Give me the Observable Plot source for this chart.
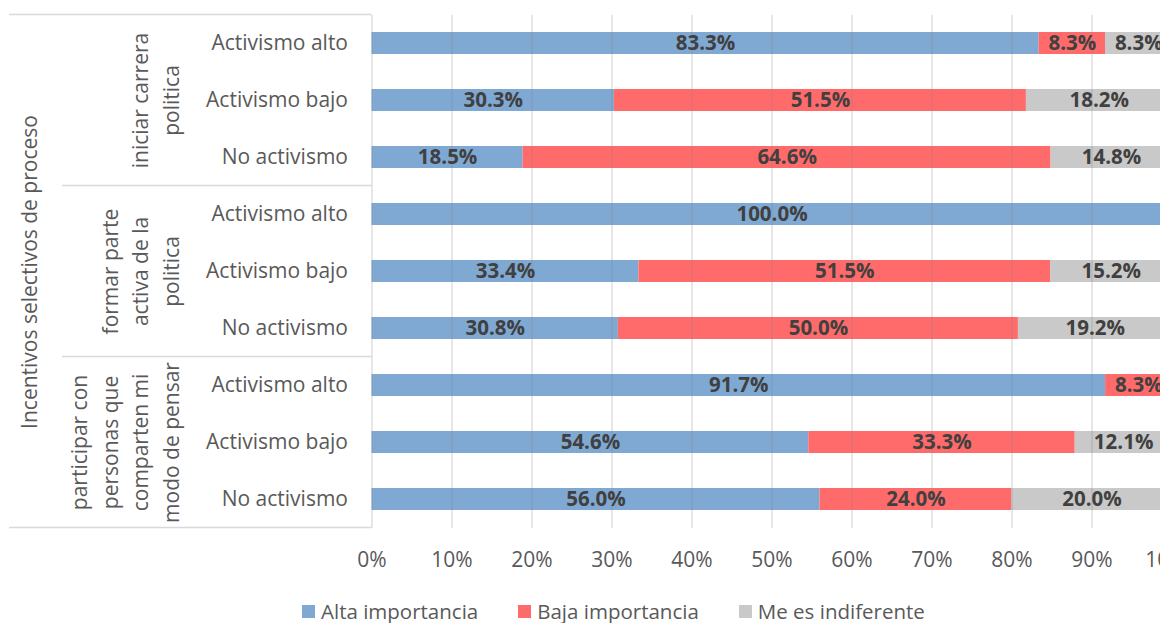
<!DOCTYPE html>
<html>
<head>
<meta charset="utf-8">
<script src="https://cdn.jsdelivr.net/npm/d3@7"></script>
<script src="https://cdn.jsdelivr.net/npm/@observablehq/plot@0.6"></script>
<style>
  html, body { margin: 0; padding: 0; background: #fff; overflow: hidden; width: 1160px; height: 623px; }
  #chart { position: relative; width: 1160px; height: 623px; overflow: hidden; }
  #chart svg { display: block; position: absolute; left: 0; top: 0; max-width: none !important; }
  .legend { position: absolute; top: 597px; left: 302px; display: flex; align-items: center;
            font-family: "Open Sans", sans-serif; font-size: 20.5px; color: #595959; white-space: nowrap; }
  .legend .item { display: flex; align-items: center; margin-right: 40px; }
  .legend .sw { width: 13px; height: 13px; margin-right: 6px; }
</style>
</head>
<body>
<div id="chart"></div>
<script>
// ---- data ----
const groupLabels = ["iniciar carrera\npolitica", "formar parte\nactiva de la\npolitica", "participar con\npersonas que\ncomparten mi\nmodo de pensar"];
const rowLabels = ["Activismo alto", "Activismo bajo", "No activismo"];
const seriesNames = ["Alta importancia", "Baja importancia", "Me es indiferente"];
const seriesColors = ["#7FA9D3", "#FF6B6B", "#C9C9C9"];
const altaImportancia = [83.3, 30.3, 18.5, 100.0, 33.4, 30.8, 91.7, 54.6, 56.0];
const bajaImportancia = [8.3, 51.5, 64.6, 0, 51.5, 50.0, 8.3, 33.3, 24.0];
const meEsIndiferente = [8.3, 18.2, 14.8, 0, 15.2, 19.2, 0, 12.1, 20.0];
const axisTitle = "Incentivos selectivos de proceso";
const xTicks = [0, 0.1, 0.2, 0.3, 0.4, 0.5, 0.6, 0.7, 0.8, 0.9, 1];
const xTickLabels = ["0%", "10%", "20%", "30%", "40%", "50%", "60%", "70%", "80%", "90%", "100%"];

// ---- table ----
const seriesValues = [altaImportancia, bajaImportancia, meEsIndiferente];
const keys = [];
const table = [];
groupLabels.forEach((g, gi) => {
  rowLabels.forEach((r, ri) => {
    const key = gi + "|" + r;
    keys.push(key);
    const idx = gi * rowLabels.length + ri;
    seriesNames.forEach((s, si) => {
      const v = seriesValues[si][idx];
      if (v > 0) table.push({key, group: g, row: r, series: s, value: v});
    });
  });
});
const groupData = groupLabels.map((g, gi) => ({label: g, key: gi + "|" + rowLabels[1]}));

const plot = Plot.plot({
  width: 1180,
  height: 590,
  marginLeft: 371.5,
  marginRight: 8.5,
  marginTop: 15,
  marginBottom: 62,
  style: {fontFamily: "'Open Sans', sans-serif", fontSize: "21px", color: "#595959", background: "#fff", overflow: "visible"},
  x: {domain: [0, 1], axis: null},
  y: {domain: keys, paddingInner: 0.614, paddingOuter: 0.307, axis: null},
  color: {domain: seriesNames, range: seriesColors},
  marks: [
    Plot.barX(table, Plot.stackX({offset: "normalize", order: seriesNames, x: "value", y: "key", fill: "series"})),
    Plot.ruleX(xTicks, {stroke: "#808080", strokeOpacity: 0.3, strokeWidth: 1.3}),
    Plot.text(table, Plot.stackX({offset: "normalize", order: seriesNames, x: "value", y: "key", z: "series",
      text: d => d.value.toFixed(1) + "%", fontWeight: "bold", fill: "#404040", fontSize: 20.5})),
    Plot.axisX({ticks: xTicks, tickFormat: d => xTickLabels[xTicks.indexOf(d)], tickSize: 0, tickPadding: 24, fontSize: 21, label: null}),
    Plot.axisY({tickSize: 0, tickPadding: 24, tickFormat: k => k.split("|")[1], fontSize: 21, label: null}),
    Plot.text(groupData, {y: "key", text: "label", rotate: -90, frameAnchor: "left", textAnchor: "middle", dx: -193.5,
      lineAnchor: "bottom", lineHeight: 1.45, fill: "#595959", fontSize: 21}),
    Plot.text([axisTitle], {frameAnchor: "left", textAnchor: "middle", dx: -335.5, rotate: -90, lineAnchor: "bottom", fill: "#595959", fontSize: 21})
  ]
});

// table-like separator lines in the label area, positioned from the scales
const ys = plot.scale("y");
const xs = plot.scale("x");
const x0 = xs.apply(0);
const center = k => ys.apply(k) + ys.bandwidth / 2;
const step = ys.step;
const lines = [];
lines.push({y: center(keys[0]) - step / 2, x1: 9});
for (let gi = 1; gi < groupLabels.length; gi++) {
  lines.push({y: center(keys[gi * rowLabels.length]) - step / 2, x1: 62});
}
lines.push({y: center(keys[keys.length - 1]) + step / 2, x1: 9});
const g = d3.select(plot).append("g").attr("stroke", "#D9D9D9").attr("stroke-width", 1.3);
lines.forEach(l => g.append("line").attr("x1", l.x1).attr("x2", x0).attr("y1", l.y).attr("y2", l.y));

const chart = document.getElementById("chart");
chart.appendChild(plot);

// legend
const legend = document.createElement("div");
legend.className = "legend";
seriesNames.forEach((s, i) => {
  const item = document.createElement("div");
  item.className = "item";
  const sw = document.createElement("div");
  sw.className = "sw";
  sw.style.background = seriesColors[i];
  const t = document.createElement("span");
  t.textContent = s;
  item.appendChild(sw);
  item.appendChild(t);
  legend.appendChild(item);
});
chart.appendChild(legend);
</script>
</body>
</html>
